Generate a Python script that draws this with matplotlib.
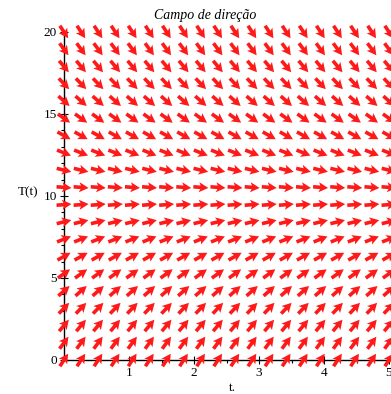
import numpy as np
import matplotlib
matplotlib.use('Agg')
import matplotlib.pyplot as plt

# direction field of dT/dt = -k (T - Ta)
k = 0.6
Ta = 10.0
t_vals = np.linspace(0, 5, 20)
T_vals = np.linspace(0, 20, 20)
x_ticks = [1, 2, 3, 4, 5]
y_ticks = [0, 5, 10, 15, 20]

W, H = 391, 394
fig = plt.figure(figsize=(W / 100, H / 100), dpi=100)
left, bottom = 64 / W, (H - 360) / H
width, height = 325 / W, 328 / H
ax = fig.add_axes([left, bottom, width, height])

tt, TT = np.meshgrid(t_vals, T_vals)
slope = -k * (TT - Ta)
# direction in screen pixels so every arrow has the same drawn length
px_x = width * W / 5.0
px_y = height * H / 20.0
ang = np.degrees(np.arctan2(slope * px_y, px_x))
ax.quiver(tt, TT, np.ones_like(tt), np.zeros_like(tt), angles=ang,
          units='dots', scale_units='dots', scale=1 / 15.0, width=3.6,
          headwidth=2.8, headlength=2.6, headaxislength=2.2,
          pivot='mid', color='#ff1a1a', clip_on=False, zorder=3)

ax.set_xlim(0, 5)
ax.set_ylim(0, 20)
for s in ['top', 'right']:
    ax.spines[s].set_visible(False)
ax.spines['left'].set_linewidth(1.0)
ax.spines['bottom'].set_linewidth(1.0)
ax.spines['left'].set_zorder(2)
ax.spines['bottom'].set_zorder(2)

ax.set_xticks(x_ticks)
ax.set_yticks(y_ticks)
ax.set_xticks(np.arange(0.5, 5, 0.5), minor=True)
ax.set_yticks(np.arange(0, 21, 1), minor=True)
ax.tick_params(which='major', direction='inout', length=6, width=0.8,
               labelsize=9.5, pad=2)
ax.tick_params(which='minor', direction='out', length=2.5, width=0.8)
for lab in ax.get_xticklabels() + ax.get_yticklabels():
    lab.set_family('Liberation Serif')

fig.text(232 / W, 1 - 388 / H, 't.', ha='center', va='center',
         family='Liberation Serif', fontsize=9.5)
fig.text(28 / W, 1 - 192 / H, 'T(t)', ha='center', va='center',
         family='Liberation Serif', fontsize=9.5)
fig.text(205 / W, 1 - 15 / H, 'Campo de direção', ha='center', va='center',
         family='Liberation Serif', style='italic', fontsize=10)

fig.savefig('out.png', dpi=100)
